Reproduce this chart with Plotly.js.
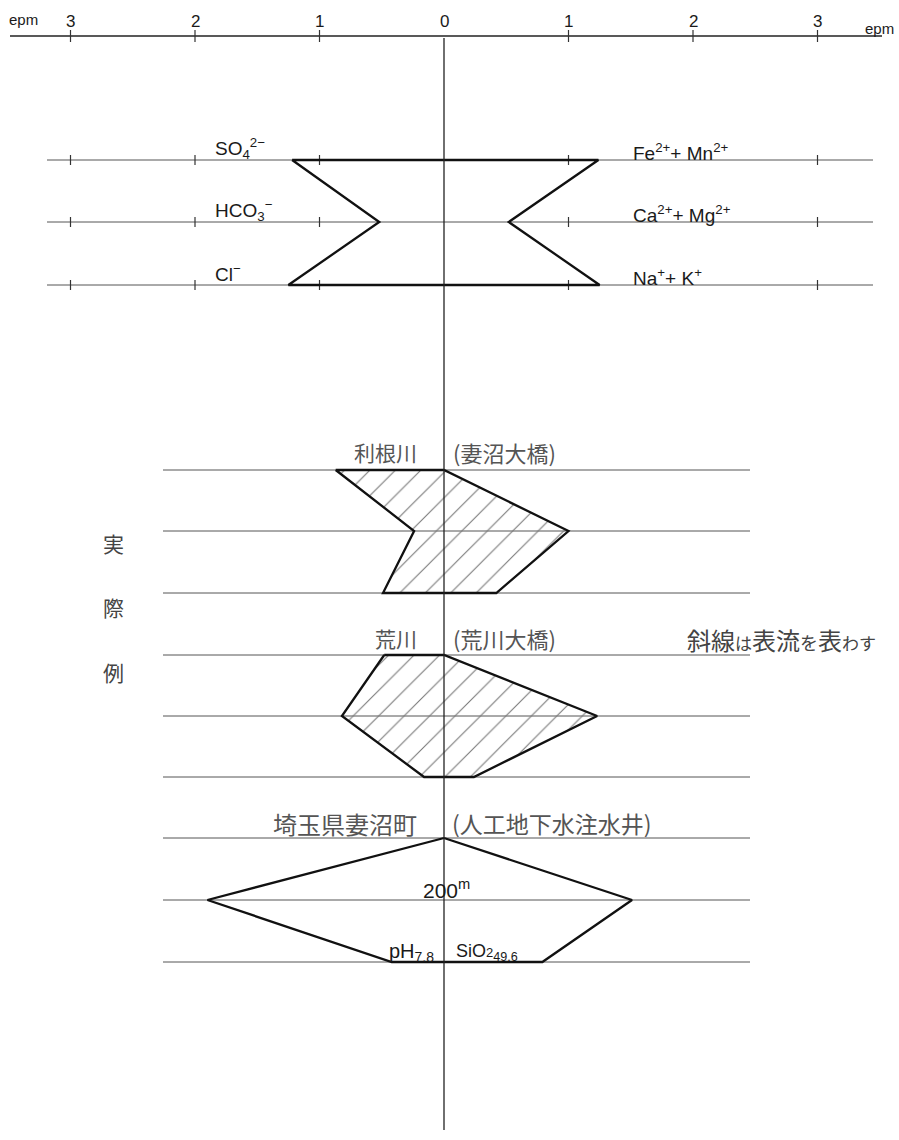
<!DOCTYPE html>
<html>
<head>
<meta charset="utf-8">
<script src="https://cdn.plot.ly/plotly-3.0.1.min.js"></script>
<style>
  html, body { margin: 0; padding: 0; background: #fff; }
  #chart { width: 899px; height: 1140px; }
</style>
</head>
<body>
<div id="chart"></div>
<script>
// Escala epm (eje superior)
const scaleTicks = [-3, -2, -1, 0, 1, 2, 3];
const scaleLabels = ['3', '2', '1', '0', '1', '2', '3'];

// Iones (izquierda: aniones, derecha: cationes)
const anionLabels = ['SO<sub>4</sub><sup>2−</sup>', 'HCO<sub>3</sub><sup>−</sup>', 'Cl<sup>−</sup>'];
const cationLabels = ['Fe<sup>2+</sup>+ Mn<sup>2+</sup>', 'Ca<sup>2+</sup>+ Mg<sup>2+</sup>', 'Na<sup>+</sup>+ K<sup>+</sup>'];

// Diagrama de leyenda (epm)
const legendAnion = [1.22, 0.52, 1.25];
const legendCation = [1.24, 0.52, 1.25];

// 利根川 (妻沼大橋)
const toneAnion = [0.87, 0.24, 0.49];
const toneCation = [0.00, 1.00, 0.42];

// 荒川 (荒川大橋)
const arakawaAnion = [0.48, 0.82, 0.16];
const arakawaCation = [0.00, 1.23, 0.24];

// 埼玉県妻沼町 (人工地下水注水井)
const menumaAnion = [0.00, 1.90, 0.42];
const menumaCation = [0.00, 1.51, 0.79];

// Geometría de la página (px)
const W = 899, H = 1140;
const X0 = 444, UNIT = 124.5;
const toX = px => (px - X0) / UNIT;

const legendRows = [160, 222, 285];
const toneRows = [470, 531, 593];
const arakawaRows = [655, 716, 777];
const menumaRows = [838, 900, 962];

function rowLines(rows, x1, x2) {
    const x = [], y = [];
    rows.forEach(r => { x.push(x1, x2, null); y.push(r, r, null); });
    return { x, y, type: 'scatter', mode: 'lines', hoverinfo: 'skip',
             line: { color: '#555', width: 1 }, showlegend: false };
}

function tickMarks(ticks, rows, half) {
    const x = [], y = [];
    rows.forEach(r => ticks.forEach(t => { x.push(t, t, null); y.push(r - half, r + half, null); }));
    return { x, y, type: 'scatter', mode: 'lines', hoverinfo: 'skip',
             line: { color: '#333', width: 1.2 }, showlegend: false };
}

function stiff(anion, cation, rows, hatched) {
    const x = [-anion[0], -anion[1], -anion[2], cation[2], cation[1], cation[0], -anion[0]];
    const y = [rows[0], rows[1], rows[2], rows[2], rows[1], rows[0], rows[0]];
    const tr = { x, y, type: 'scatter', mode: 'lines', fill: 'toself', hoverinfo: 'skip',
                 fillcolor: 'rgba(0,0,0,0)', line: { color: '#111', width: 2.3 }, showlegend: false };
    if (hatched) {
        tr.fillcolor = 'rgba(255,255,255,0)';
        tr.fillpattern = { shape: '/', size: 18, solidity: 0.06, fgcolor: '#777', bgcolor: 'rgba(255,255,255,0)' };
    }
    return tr;
}

const latin = 'Liberation Sans, Arial, sans-serif';
const jp = 'Noto Sans CJK JP, sans-serif';
const jpColor = '#555';

const traces = [
    // eje superior
    { x: [toX(10), toX(882)], y: [36, 36], type: 'scatter', mode: 'lines', hoverinfo: 'skip',
      line: { color: '#222', width: 1.4 }, showlegend: false },
    tickMarks(scaleTicks.filter(t => t !== 0), [36], 6),
    // leyenda
    rowLines(legendRows, toX(47), toX(873)),
    tickMarks([-3, -2, -1, 1, 3], legendRows, 5),
    stiff(legendAnion, legendCation, legendRows, false),
    // ejemplos
    rowLines(toneRows, toX(163), toX(750)),
    rowLines(arakawaRows, toX(163), toX(750)),
    rowLines(menumaRows, toX(163), toX(750)),
    stiff(toneAnion, toneCation, toneRows, true),
    stiff(arakawaAnion, arakawaCation, arakawaRows, true),
    stiff(menumaAnion, menumaCation, menumaRows, false),
    // eje vertical central
    { x: [0, 0], y: [38, 1130], type: 'scatter', mode: 'lines', hoverinfo: 'skip',
      line: { color: '#222', width: 1.3 }, showlegend: false }
];

// textos como anotaciones
function ann(text, x, y, size, anchor, family, color) {
    return { text, x, y, xref: 'x', yref: 'y', showarrow: false,
             xanchor: anchor || 'center', yanchor: 'middle',
             font: { family: family || latin, size, color: color || '#1a1a1a' } };
}

const annotations = [];
scaleTicks.forEach((t, i) => annotations.push(ann(scaleLabels[i], t, 21, 17)));
annotations.push(ann('epm', toX(23), 19, 15));
annotations.push(ann('epm', toX(879), 28, 15));

anionLabels.forEach((t, i) => annotations.push(ann(t, toX(213), legendRows[i] - 12, 19, 'left')));
cationLabels.forEach((t, i) => annotations.push(ann(t, toX(631), legendRows[i] - 8, 19, 'left')));

annotations.push(ann('利根川', toX(419), 452, 21, 'right', jp, jpColor));
annotations.push(ann('(妻沼大橋)', toX(451), 452, 22, 'left', jp, jpColor));
annotations.push(ann('荒川', toX(419), 638, 21, 'right', jp, jpColor));
annotations.push(ann('(荒川大橋)', toX(451), 638, 22, 'left', jp, jpColor));
annotations.push(ann('埼玉県妻沼町', toX(419), 823, 24, 'right', jp, jpColor));
annotations.push(ann('(人工地下水注水井)', toX(450), 823, 23, 'left', jp, jpColor));

annotations.push(ann('実', toX(113), 543, 21, 'center', jp, '#444'));
annotations.push(ann('際', toX(113), 607, 21, 'center', jp, '#444'));
annotations.push(ann('例', toX(113), 672, 21, 'center', jp, '#444'));
annotations.push(ann('斜線<span style="font-size:17px">は</span>表流<span style="font-size:18px">を</span>表<span style="font-size:17px">わす</span>',
                     toX(685), 639, 24, 'left', jp, '#444'));

annotations.push(ann('200<sup>m</sup>', toX(446), 889, 21));
annotations.push(ann('pH<sub>7.8</sub>', toX(411), 952, 20));
annotations.push(ann('SiO<span style="font-size:13px">2</span><sub>49.6</sub>', toX(487), 952, 18));

const layout = {
    width: W, height: H,
    margin: { l: 0, r: 0, t: 0, b: 0 },
    paper_bgcolor: '#fff', plot_bgcolor: '#fff',
    showlegend: false,
    xaxis: { range: [toX(0), toX(W)], visible: false, fixedrange: true },
    yaxis: { range: [H, 0], visible: false, fixedrange: true },
    annotations
};

Plotly.newPlot('chart', traces, layout, { displayModeBar: false }).then(gd => {
    // copia el tamaño de letra del estilo al atributo
    gd.querySelectorAll('text').forEach(t => {
        const fs = t.style.fontSize;
        if (fs) t.setAttribute('font-size', fs);
    });
});
</script>
</body>
</html>
